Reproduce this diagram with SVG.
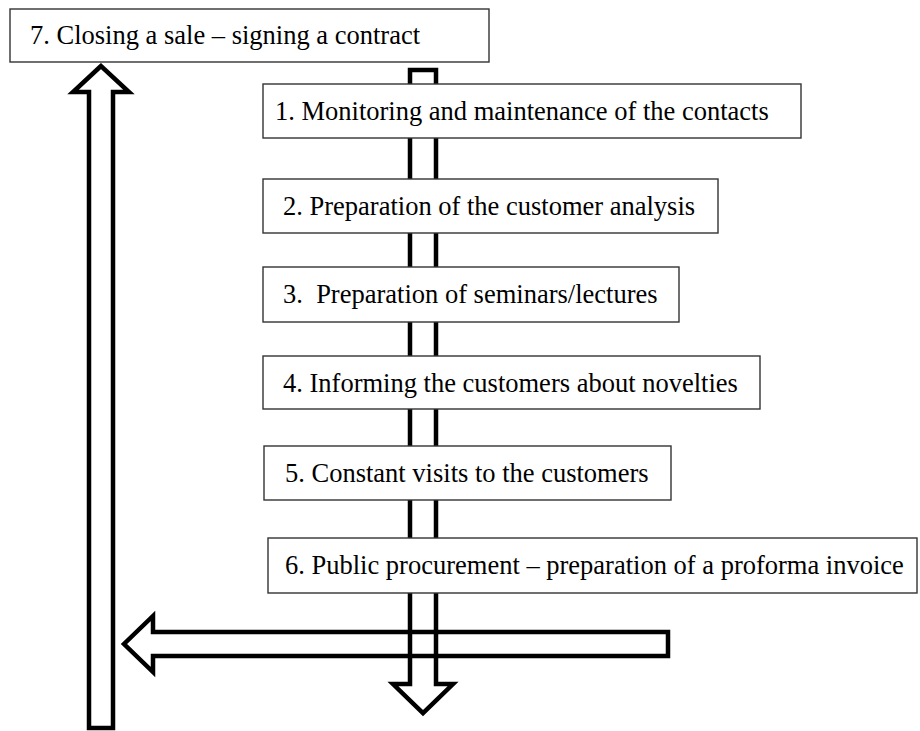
<svg xmlns="http://www.w3.org/2000/svg" width="920" height="731" viewBox="0 0 920 731">
<style>
.arrow{fill:none;stroke:#000;stroke-width:4.5;stroke-linejoin:miter;stroke-miterlimit:10}
.box{fill:#fff;stroke:#333;stroke-width:1.4}
.lbl{font-family:"Liberation Serif","Times New Roman",serif;font-size:26.5px;fill:#000}
</style>
<rect width="920" height="731" fill="#fff"/>
<g id="connectors">
<polygon class="arrow" points="410,70 436,70 436,684 453,684 423,713 393,684 410,684"/>
<polygon class="arrow" points="668,632 153,632 153,616 124,644 153,672 153,656 668,656"/>
<polygon class="arrow" points="101,66 73,92 89,92 89,728 113,728 113,92 129,92"/>
</g>
<g id="node7"><rect class="box" x="10" y="9" width="479" height="53"/><text class="lbl" x="30" y="44">7. Closing a sale – signing a contract</text></g>
<g id="node1"><rect class="box" x="263" y="84" width="538" height="54"/><text class="lbl" x="275" y="120">1. Monitoring and maintenance of the contacts</text></g>
<g id="node2"><rect class="box" x="263" y="179" width="455" height="54"/><text class="lbl" x="283" y="215">2. Preparation of the customer analysis</text></g>
<g id="node3"><rect class="box" x="263" y="267" width="416" height="55"/><text class="lbl" x="283" y="303" xml:space="preserve">3.  Preparation of seminars/lectures</text></g>
<g id="node4"><rect class="box" x="263" y="356" width="497" height="53"/><text class="lbl" x="283" y="392">4. Informing the customers about novelties</text></g>
<g id="node5"><rect class="box" x="264" y="446" width="407" height="54"/><text class="lbl" x="285" y="482">5. Constant visits to the customers</text></g>
<g id="node6"><rect class="box" x="268" y="538" width="649" height="55"/><text class="lbl" x="285" y="574">6. Public procurement – preparation of a proforma invoice</text></g>
</svg>
